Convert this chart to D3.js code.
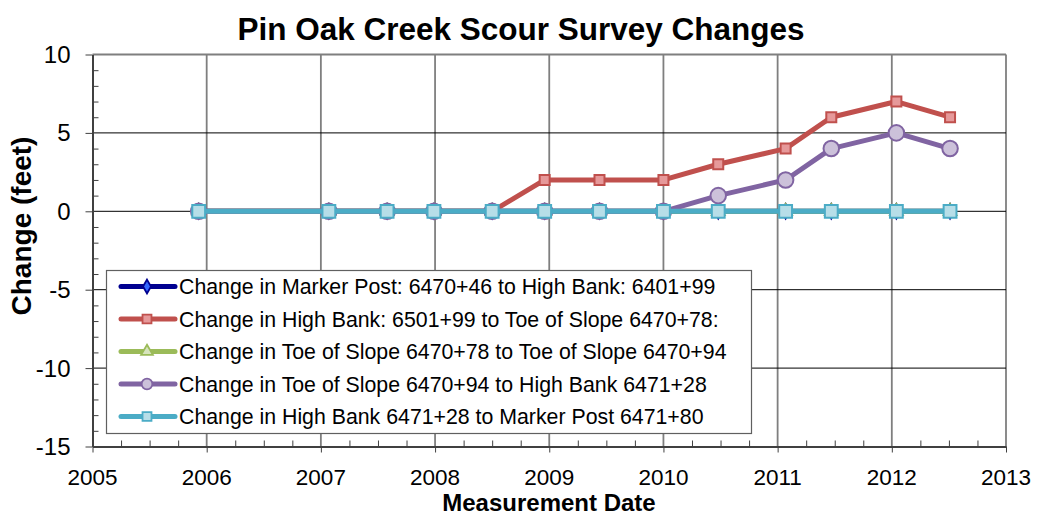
<!DOCTYPE html>
<html>
<head>
<meta charset="utf-8">
<script src="https://cdn.jsdelivr.net/npm/d3@7"></script>
<style>
  body { margin: 0; background: #fff; }
  svg { font-family: "Liberation Sans", Arial, sans-serif; }
</style>
</head>
<body>
<div class="chart"></div>
<script>
// survey dates, as decimal years
var dates = [2005.93, 2007.07, 2007.58, 2007.99, 2008.50, 2008.96, 2009.44,
             2010.00, 2010.48, 2011.07, 2011.47, 2012.04, 2012.51];

var markerPostBank = [0, 0, 0, 0, 0, 0, 0, 0, 0, 0, 0, 0, 0];
var highBankToe    = [0, 0, 0, 0, 0, 2, 2, 2, 3, 4, 6, 7, 6];
var toeToToe       = [0, 0, 0, 0, 0, 0, 0, 0, 0, 0, 0, 0, 0];
var toeToHighBank  = [0, 0, 0, 0, 0, 0, 0, 0, 1, 2, 4, 5, 4];
var highBankPost   = [0, 0, 0, 0, 0, 0, 0, 0, 0, 0, 0, 0, 0];

var seriesNames = [
  "Change in Marker Post: 6470+46 to High Bank: 6401+99",
  "Change in High Bank: 6501+99 to Toe of Slope 6470+78:",
  "Change in Toe of Slope 6470+78 to Toe of Slope 6470+94",
  "Change in Toe of Slope 6470+94 to High Bank 6471+28",
  "Change in High Bank 6471+28 to Marker Post 6471+80"
];
var xTicks = [2005, 2006, 2007, 2008, 2009, 2010, 2011, 2012, 2013];
var yTicks = [-15, -10, -5, 0, 5, 10];

var series = [
  {name: seriesNames[0], values: markerPostBank, color: "#000090", fill: "#3366ff", marker: "diamond"},
  {name: seriesNames[1], values: highBankToe, color: "#c0504d", fill: "#e6999a", marker: "smallSquare"},
  {name: seriesNames[2], values: toeToToe, color: "#9bbb59", fill: "#d7e4bd", marker: "triangle"},
  {name: seriesNames[3], values: toeToHighBank, color: "#8064a2", fill: "#ccc1da", marker: "circle"},
  {name: seriesNames[4], values: highBankPost, color: "#4bacc6", fill: "#b7dee8", marker: "square"}
];

var width = 1038, height = 516;
var margin = {top: 54.5, right: 32, bottom: 69.5, left: 92.5};

var svg = d3.select("div.chart")
    .append("svg")
    .attr("width", width)
    .attr("height", height);

var x = d3.scaleLinear().domain([2005, 2013]).range([margin.left, width - margin.right]);
var y = d3.scaleLinear().domain([-15, 10]).range([height - margin.bottom, margin.top]);

// gridlines
svg.append("g").selectAll("line")
    .data(xTicks.slice(1))
    .enter().append("line")
    .attr("x1", function (d) { return x(d); })
    .attr("x2", function (d) { return x(d); })
    .attr("y1", y(10)).attr("y2", y(-15))
    .attr("stroke", "#7f7f7f")
    .attr("stroke-width", 1.8);

svg.append("g").selectAll("line")
    .data(yTicks.slice(1, -1))
    .enter().append("line")
    .attr("x1", x(2005)).attr("x2", x(2013))
    .attr("y1", function (d) { return y(d); })
    .attr("y2", function (d) { return y(d); })
    .attr("stroke", "#000")
    .attr("stroke-width", 1);

svg.append("line")
    .attr("x1", x(2005)).attr("x2", x(2013))
    .attr("y1", y(10)).attr("y2", y(10))
    .attr("stroke", "#7f7f7f")
    .attr("stroke-width", 2);

// x axis
var xAxis = svg.append("g")
    .attr("transform", "translate(0," + y(-15) + ")");
xAxis.call(d3.axisBottom(x).tickValues(d3.range(2005, 2013.01, 0.25)).tickSize(0).tickFormat(""));
xAxis.select(".domain").attr("stroke", "#404040").attr("stroke-width", 2);
xAxis.selectAll(".tick line")
    .attr("y1", function (d) { return Number.isInteger(d) ? 6 : 0; })
    .attr("y2", function (d) { return Number.isInteger(d) ? 0 : -6; })
    .attr("stroke", "#404040");
svg.append("g").selectAll("text")
    .data(xTicks)
    .enter().append("text")
    .attr("x", function (d) { return x(d); })
    .attr("y", y(-15) + 38)
    .attr("text-anchor", "middle")
    .style("font-size", "22.5px")
    .text(function (d) { return d; });

// y axis
var yAxis = svg.append("g")
    .attr("transform", "translate(" + x(2005) + ",0)");
yAxis.call(d3.axisLeft(y).tickValues(d3.range(-15, 10.01, 1)).tickSize(0).tickFormat(""));
yAxis.select(".domain").attr("stroke", "#404040").attr("stroke-width", 2);
yAxis.selectAll(".tick line")
    .attr("x1", function (d) { return d % 5 === 0 ? -7 : 0; })
    .attr("x2", function (d) { return d % 5 === 0 ? 0 : 6; })
    .attr("stroke", "#404040");
svg.append("g").selectAll("text")
    .data(yTicks)
    .enter().append("text")
    .attr("x", x(2005) - 22)
    .attr("y", function (d) { return y(d) + 8.5; })
    .attr("text-anchor", "end")
    .style("font-size", "24px")
    .text(function (d) { return d; });

// titles
svg.append("text")
    .attr("x", 521).attr("y", 40)
    .attr("text-anchor", "middle")
    .style("font-size", "31.5px").style("font-weight", "bold")
    .text("Pin Oak Creek Scour Survey Changes");

svg.append("text")
    .attr("x", 549).attr("y", 510.8)
    .attr("text-anchor", "middle")
    .style("font-size", "24px").style("font-weight", "bold")
    .text("Measurement Date");

svg.append("text")
    .attr("transform", "translate(31,226) rotate(-90)")
    .attr("text-anchor", "middle")
    .style("font-size", "28px").style("font-weight", "bold")
    .text("Change (feet)");

// markers
var symbolFor = {
  square: d3.symbol().type(d3.symbolSquare).size(165),
  smallSquare: d3.symbol().type(d3.symbolSquare).size(100),
  circle: d3.symbol().type(d3.symbolCircle).size(190),
  diamond: d3.symbol().type(d3.symbolDiamond).size(60),
  triangle: d3.symbol().type(d3.symbolTriangle).size(70)
};

var line = d3.line()
    .x(function (d, i) { return x(dates[i]); })
    .y(function (d) { return y(d); });

series.forEach(function (s) {
  svg.append("path")
      .datum(s.values)
      .attr("d", line)
      .attr("fill", "none")
      .attr("stroke", s.color)
      .attr("stroke-width", 5)
      .attr("stroke-linejoin", "round");
  svg.append("g").selectAll("path")
      .data(s.values)
      .enter().append("path")
      .attr("d", symbolFor[s.marker])
      .attr("transform", function (d, i) { return "translate(" + x(dates[i]) + "," + y(d) + ")"; })
      .attr("fill", s.fill)
      .attr("stroke", s.color)
      .attr("stroke-width", 2);
});

// legend
var legend = svg.append("g");
legend.append("rect")
    .attr("x", 106.5).attr("y", 270.5)
    .attr("width", 645).attr("height", 163)
    .attr("fill", "#fff")
    .attr("stroke", "#606060")
    .attr("stroke-width", 1.2);

var legendSymbol = {
  diamond: d3.symbol().type(d3.symbolDiamond).size(55),
  smallSquare: d3.symbol().type(d3.symbolSquare).size(80),
  triangle: d3.symbol().type(d3.symbolTriangle).size(60),
  circle: d3.symbol().type(d3.symbolCircle).size(90),
  square: d3.symbol().type(d3.symbolSquare).size(80)
};

var rows = legend.selectAll("g.row")
    .data(series)
    .enter().append("g")
    .attr("class", "row")
    .attr("transform", function (d, i) { return "translate(0," + (286.5 + i * 32.5) + ")"; });
rows.append("line")
    .attr("x1", 121).attr("x2", 175)
    .attr("stroke", function (d) { return d.color; })
    .attr("stroke-width", 5)
    .attr("stroke-linecap", "round");
rows.append("path")
    .attr("d", function (d) { return legendSymbol[d.marker](); })
    .attr("transform", "translate(147,0)")
    .attr("fill", function (d) { return d.fill; })
    .attr("stroke", function (d) { return d.color; })
    .attr("stroke-width", 1.8);
rows.append("text")
    .attr("x", 179).attr("y", 7.5)
    .style("font-size", "21.3px")
    .text(function (d) { return d.name; });
</script>
</body>
</html>
